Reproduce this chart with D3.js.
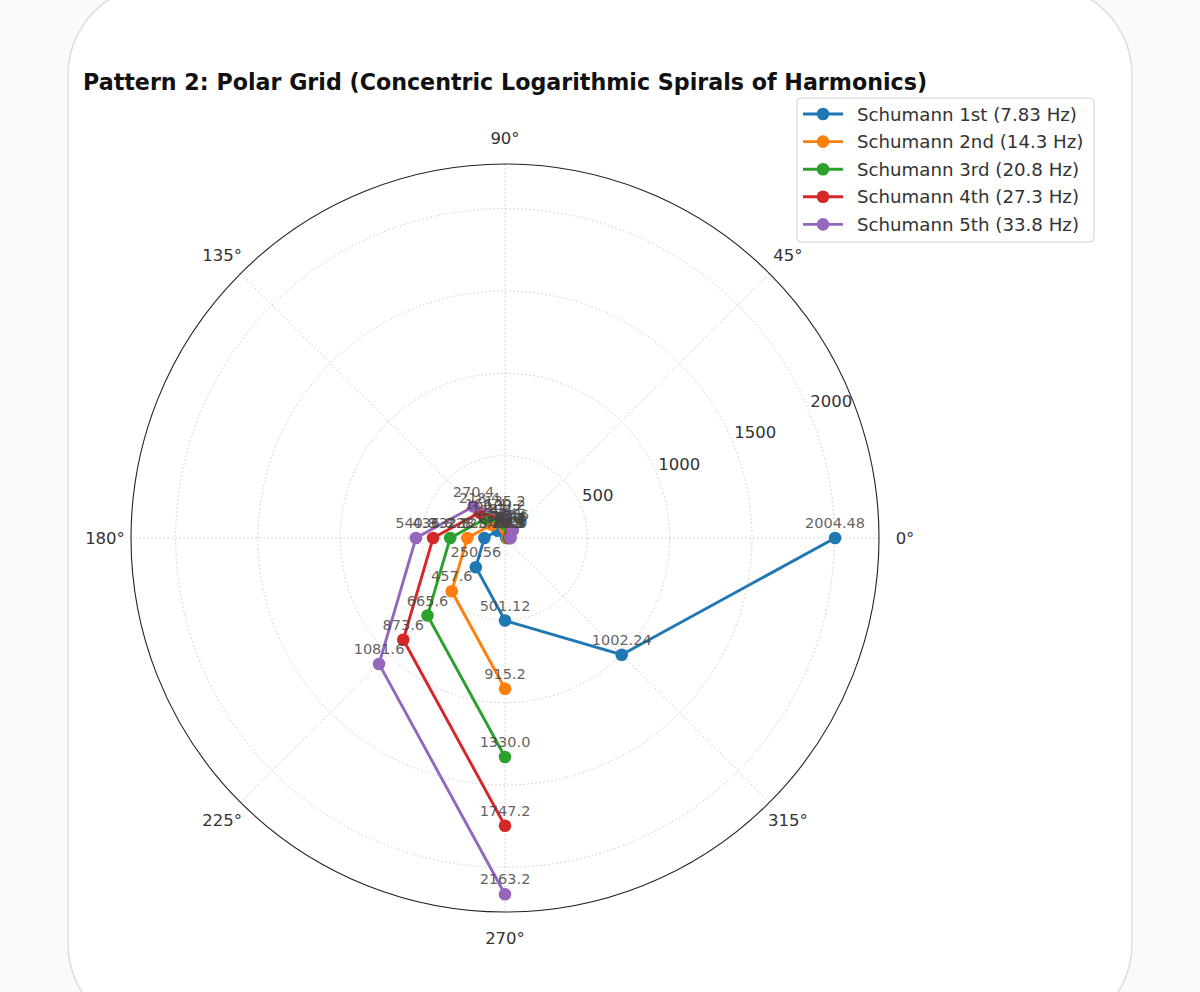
<!DOCTYPE html>
<html>
<head>
<meta charset="utf-8">
<script src="https://cdn.jsdelivr.net/npm/d3@7"></script>
<style>
  body { margin: 0; background: #fbf9f9; }
  svg { display: block; font-family: "DejaVu Sans", sans-serif; }
</style>
</head>
<body>
<div id="chart"></div>
<script>
// series data (angle in degrees, radius in Hz)
const seriesNames = [
  "Schumann 1st (7.83 Hz)",
  "Schumann 2nd (14.3 Hz)",
  "Schumann 3rd (20.8 Hz)",
  "Schumann 4th (27.3 Hz)",
  "Schumann 5th (33.8 Hz)"
];
const seriesColors = ["#1f77b4", "#ff7f0e", "#2ca02c", "#d62728", "#9467bd"];

const anglesFirst = [0, 45, 90, 135, 180, 225, 270, 315, 360];
const anglesOther = [0, 45, 90, 135, 180, 225, 270];

const radiiFirst  = [7.83, 15.66, 31.32, 62.64, 125.28, 250.56, 501.12, 1002.24, 2004.48];
const radiiSecond = [14.3, 28.6, 57.2, 114.4, 228.8, 457.6, 915.2];
const radiiThird  = [20.8, 41.6, 83.2, 166.4, 332.8, 665.6, 1330.0];
const radiiFourth = [27.3, 54.6, 109.2, 218.4, 436.8, 873.6, 1747.2];
const radiiFifth  = [33.8, 67.6, 135.2, 270.4, 540.8, 1081.6, 2163.2];

const radialTicks = [500, 1000, 1500, 2000];
const angleTicks = [0, 45, 90, 135, 180, 225, 270, 315];
const rMax = 2271;

const title = "Pattern 2: Polar Grid (Concentric Logarithmic Spirals of Harmonics)";

const series = [
  { name: seriesNames[0], color: seriesColors[0], angles: anglesFirst, radii: radiiFirst },
  { name: seriesNames[1], color: seriesColors[1], angles: anglesOther, radii: radiiSecond },
  { name: seriesNames[2], color: seriesColors[2], angles: anglesOther, radii: radiiThird },
  { name: seriesNames[3], color: seriesColors[3], angles: anglesOther, radii: radiiFourth },
  { name: seriesNames[4], color: seriesColors[4], angles: anglesOther, radii: radiiFifth }
];

const width = 1200, height = 992;
const cx = 505, cy = 538, R = 374;

const svg = d3.select("#chart").append("svg")
  .attr("width", width)
  .attr("height", height);

// white card
svg.append("rect")
  .attr("x", 68).attr("y", -15)
  .attr("width", 1064).attr("height", 1049)
  .attr("rx", 90).attr("ry", 90)
  .attr("fill", "#fff")
  .attr("stroke", "#dedede")
  .attr("stroke-width", 1.5);

const r = d3.scaleLinear().domain([0, rMax]).range([0, R]);
const rad = d => d * Math.PI / 180;
const px = (a, v) => cx + r(v) * Math.cos(rad(a));
const py = (a, v) => cy - r(v) * Math.sin(rad(a));

const g = svg.append("g");

// grid
g.selectAll(".ring").data(radialTicks).enter().append("circle")
  .attr("cx", cx).attr("cy", cy)
  .attr("r", d => r(d))
  .attr("fill", "none")
  .attr("stroke", "#c8c8c8")
  .attr("stroke-width", 1)
  .attr("stroke-dasharray", "1.5,2.5");

g.selectAll(".spoke").data(angleTicks).enter().append("line")
  .attr("x1", cx).attr("y1", cy)
  .attr("x2", d => px(d, rMax))
  .attr("y2", d => py(d, rMax))
  .attr("stroke", "#c8c8c8")
  .attr("stroke-width", 1)
  .attr("stroke-dasharray", "1.5,2.5");

g.append("circle")
  .attr("cx", cx).attr("cy", cy).attr("r", R)
  .attr("fill", "none")
  .attr("stroke", "#222")
  .attr("stroke-width", 1.1);

// angle labels
g.selectAll(".alab").data(angleTicks).enter().append("text")
  .attr("x", d => cx + (R + 26) * Math.cos(rad(d)))
  .attr("y", d => cy - (R + 26) * Math.sin(rad(d)))
  .attr("text-anchor", "middle")
  .attr("dominant-baseline", "central")
  .attr("font-size", 16.5)
  .attr("fill", "#333")
  .text(d => d + "°");

// radial labels
g.selectAll(".rlab").data(radialTicks).enter().append("text")
  .attr("x", d => px(22.5, d) + 1)
  .attr("y", d => py(22.5, d) - 5)
  .attr("font-size", 16.5)
  .attr("fill", "#333")
  .text(d => d);

// lines and markers
const line = d3.line().x(d => px(d[0], d[1])).y(d => py(d[0], d[1]));

series.forEach(s => {
  const pts = s.angles.map((a, i) => [a, s.radii[i]]);
  g.append("path")
    .attr("d", line(pts))
    .attr("fill", "none")
    .attr("stroke", s.color)
    .attr("stroke-width", 2.9);
  g.selectAll(null).data(pts).enter().append("circle")
    .attr("cx", d => px(d[0], d[1]))
    .attr("cy", d => py(d[0], d[1]))
    .attr("r", 6.3)
    .attr("fill", s.color);
});

// value labels on top
const fmt = v => Number.isInteger(v) ? v.toFixed(1) : String(v);
series.forEach(s => {
  const pts = s.angles.map((a, i) => [a, s.radii[i]]);
  g.selectAll(null).data(pts).enter().append("text")
    .attr("x", d => px(d[0], d[1]))
    .attr("y", d => py(d[0], d[1]) - 10)
    .attr("text-anchor", "middle")
    .attr("font-size", 14.5)
    .attr("fill", "#444")
    .attr("fill-opacity", 0.85)
    .text(d => fmt(d[1]));
});

// title
svg.append("text")
  .attr("x", 83).attr("y", 90)
  .attr("font-size", 22.2)
  .attr("font-weight", "bold")
  .attr("fill", "#111")
  .text(title);

// legend
const lg = svg.append("g").attr("transform", "translate(797,98)");
lg.append("rect")
  .attr("width", 297).attr("height", 144)
  .attr("rx", 4)
  .attr("fill", "#fff").attr("fill-opacity", 0.85)
  .attr("stroke", "#d0d0d0");

const item = lg.selectAll(".item").data(series).enter().append("g")
  .attr("transform", (d, i) => `translate(0, ${16 + i * 27.6})`);
item.append("line")
  .attr("x1", 6).attr("x2", 46)
  .attr("stroke", d => d.color)
  .attr("stroke-width", 2.9);
item.append("circle")
  .attr("cx", 26).attr("r", 6.3)
  .attr("fill", d => d.color);
item.append("text")
  .attr("x", 60)
  .attr("dominant-baseline", "central")
  .attr("font-size", 18.2)
  .attr("fill", "#333")
  .text(d => d.name);
</script>
</body>
</html>
